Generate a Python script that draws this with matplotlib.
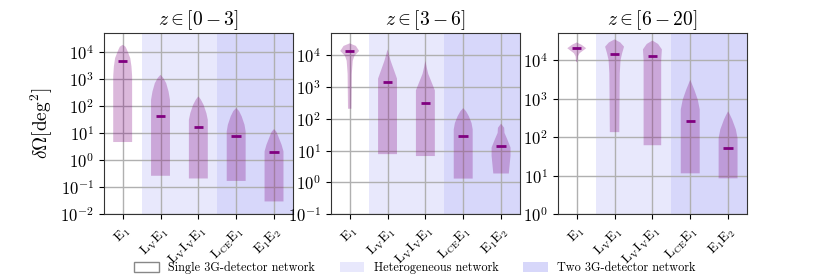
import numpy as np
import matplotlib
matplotlib.use("Agg")
import matplotlib.pyplot as plt
from matplotlib.patches import Patch
from matplotlib.ticker import LogLocator, NullLocator

plt.rcParams['font.family'] = 'cmr10'
plt.rcParams['mathtext.fontset'] = 'cm'
plt.rcParams['axes.formatter.use_mathtext'] = True

# data
networks = [r'$\mathrm{E_1}$', r'$\mathrm{L_VE_1}$', r'$\mathrm{L_VI_VE_1}$',
            r'$\mathrm{L_{CE}E_1}$', r'$\mathrm{E_1E_2}$']
z_bins = [r'$z \in [0-3]$', r'$z \in [3-6]$', r'$z \in [6-20]$']
y_bottom = [1e-2, 1e-1, 1e0]
y_top = 5e4

# violin outlines: (log10 dOmega, relative half-width), bottom -> top
profiles_z03 = [
    [(0.67, 1.0), (3.1, 1.0), (3.47, 0.93), (3.78, 0.8), (4.09, 0.45), (4.2, 0.3), (4.27, 0.0)],
    [(-0.58, 1.0), (2.23, 1.0), (2.54, 0.85), (2.85, 0.6), (3.04, 0.3), (3.16, 0.0)],
    [(-0.68, 1.0), (1.49, 1.0), (1.74, 0.85), (2.05, 0.55), (2.25, 0.25), (2.36, 0.0)],
    [(-0.77, 1.0), (1.06, 1.0), (1.31, 0.88), (1.62, 0.58), (1.82, 0.3), (1.93, 0.0)],
    [(-1.53, 1.0), (0.32, 1.0), (0.57, 0.8), (0.88, 0.45), (1.05, 0.25), (1.15, 0.0)],
]
profiles_z36 = [
    [(2.32, 0.18), (3.42, 0.22), (3.83, 0.32), (3.99, 0.5), (4.14, 1.0), (4.3, 0.65),
     (4.38, 0.0)],
    [(0.89, 1.0), (3.27, 1.0), (3.52, 0.7), (3.83, 0.33), (4.05, 0.12), (4.19, 0.0)],
    [(0.83, 1.0), (2.9, 1.0), (3.16, 0.65), (3.42, 0.3), (3.65, 0.12), (3.83, 0.0)],
    [(0.12, 1.0), (1.67, 1.0), (1.87, 0.88), (2.08, 0.6), (2.24, 0.3), (2.34, 0.0)],
    [(0.28, 0.82), (0.53, 0.9), (0.84, 1.0), (1.1, 1.0), (1.36, 0.65), (1.56, 0.36),
     (1.72, 0.33), (1.85, 0.0)],
]
profiles_z620 = [
    [(3.95, 0.06), (4.1, 0.12), (4.18, 0.3), (4.31, 1.0), (4.4, 0.5), (4.46, 0.0)],
    [(2.13, 0.5), (3.66, 0.55), (4.0, 0.63), (4.18, 0.8), (4.35, 1.0), (4.46, 0.6),
     (4.54, 0.0)],
    [(1.79, 0.93), (4.0, 0.93), (4.28, 1.0), (4.42, 0.6), (4.51, 0.0)],
    [(1.06, 1.0), (2.72, 1.0), (2.97, 0.8), (3.23, 0.43), (3.4, 0.15), (3.49, 0.0)],
    [(0.93, 1.0), (1.98, 1.0), (2.2, 0.82), (2.46, 0.43), (2.58, 0.2), (2.67, 0.0)],
]
medians_z03 = [4500, 43, 17, 7.6, 2.0]
medians_z36 = [1.35e4, 1500, 316, 29, 13.8]
medians_z620 = [2.05e4, 1.43e4, 1.27e4, 257, 51]

profiles = [profiles_z03, profiles_z36, profiles_z620]
medians = [medians_z03, medians_z36, medians_z620]

# colours
violin_color = 'purple'
hetero_color = '#e8e8fc'
two3g_color = '#d7d7fa'

fig, axes = plt.subplots(1, 3, figsize=(8.3, 2.77), dpi=100)
fig.subplots_adjust(left=0.125, right=0.9, top=0.88, bottom=0.227, wspace=0.2)

pos = np.arange(1, len(networks) + 1)
for ax, title, prof, med, ybot in zip(axes, z_bins, profiles, medians, y_bottom):
    # background bands
    ax.axvspan(1.5, 3.5, color=hetero_color, lw=0, zorder=0)
    ax.axvspan(3.5, 5.5, color=two3g_color, lw=0, zorder=0)

    # violins
    stats = []
    for p, m in zip(prof, med):
        logs = np.array([q[0] for q in p])
        w = np.array([q[1] for q in p])
        stats.append(dict(coords=10 ** logs, vals=w, mean=m, median=m,
                          min=10 ** logs[0], max=10 ** logs[-1]))
    parts = ax.violin(stats, positions=pos, widths=0.5, showmeans=False,
                      showextrema=False, showmedians=True)
    for b in parts['bodies']:
        b.set_facecolor(violin_color)
        b.set_edgecolor('none')
        b.set_alpha(0.28)
    parts['cmedians'].set_color(violin_color)
    parts['cmedians'].set_linewidth(2)

    # axis
    ax.set_yscale('log')
    ax.set_ylim(ybot, y_top)
    ax.set_xlim(0.5, 5.5)
    ax.yaxis.set_major_locator(LogLocator(base=10, numticks=20))
    ax.yaxis.set_minor_locator(NullLocator())
    ax.set_xticks(pos)
    ax.set_xticklabels(networks, rotation=45, ha='right', va='top',
                       rotation_mode='anchor', fontsize=10)
    ax.tick_params(axis='y', labelsize=12)
    ax.set_axisbelow(True)
    ax.grid(True, color='#b0b0b0', lw=1.0)
    for s in ax.spines.values():
        s.set_color('#333333')
    ax.set_title(title, fontsize=14)

axes[0].set_ylabel(r'$\delta\Omega[\mathrm{deg}^2]$', fontsize=14)

# legend
handles = [Patch(facecolor='white', edgecolor='#888888', lw=1, label='Single 3G-detector network'),
           Patch(facecolor=hetero_color, edgecolor='none', label='Heterogeneous network'),
           Patch(facecolor=two3g_color, edgecolor='none', label='Two 3G-detector network')]
fig.legend(handles=handles, loc='lower center', bbox_to_anchor=(0.5, -0.03), ncol=3,
           frameon=False, fontsize=8.8, handlelength=2.0, handleheight=0.8)

fig.savefig('out.png', dpi=100)
